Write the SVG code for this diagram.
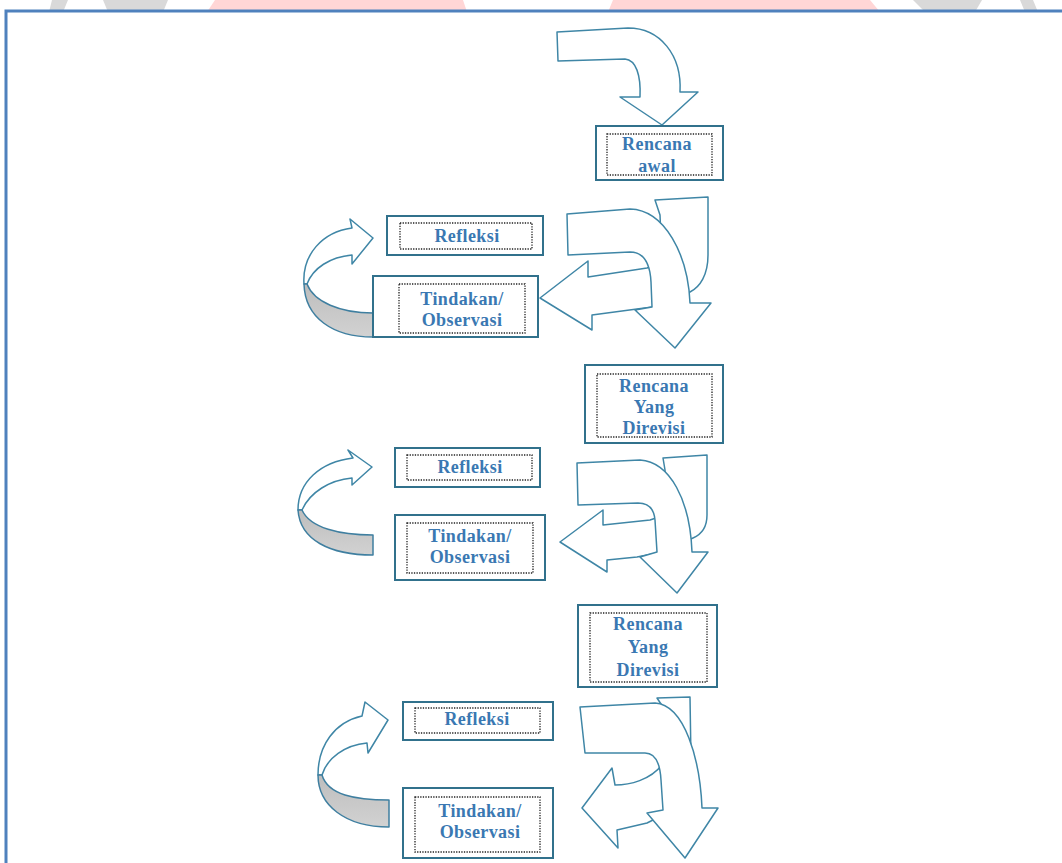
<svg xmlns="http://www.w3.org/2000/svg" width="1062" height="863" viewBox="0 0 1062 863">
<defs>
<style>
.wm-p{fill:#FFD6D6}
.wm-g{fill:#D9D9D9}
.frame{fill:#FFFFFF;stroke:#4F81BD;stroke-width:3}
.box{fill:#FFFFFF;stroke:#31718C;stroke-width:2}
.dot{fill:none;stroke:#222;stroke-width:1.3;stroke-dasharray:1.3 1.3}
.lbl{font-family:"Liberation Serif","Times New Roman",serif;font-weight:bold;font-size:18px;fill:#3A78B2;text-anchor:middle;letter-spacing:0.4px}
.arr{fill:#FFFFFF;stroke:#3F86A6;stroke-width:1.5;stroke-linejoin:round}
.rib{fill:url(#ribg);stroke:#3F7FA0;stroke-width:1.5;stroke-linejoin:round}
</style>
<linearGradient id="ribg" x1="0" y1="0" x2="0" y2="1">
<stop offset="0" stop-color="#BDBDBD"/>
<stop offset="1" stop-color="#D2D2D2"/>
</linearGradient>
</defs>
<rect width="1062" height="863" fill="#FFFFFF"/>
<g id="watermark">
<polygon class="wm-g" points="52,0 68,0 63,12 49,12"/>
<path class="wm-g" d="M103,0 L168,0 L163,12 L108,12 Z"/>
<polygon class="wm-p" points="215,0 463,0 467,12 207,12"/>
<polygon class="wm-p" points="613,0 870,0 880,12 608,12"/>
<path class="wm-g" d="M913,0 L982,0 L975,12 L925,12 Z"/>
<polygon class="wm-g" points="1020,0 1033,0 1038,12 1025,12"/>
</g>
<rect class="frame" x="6" y="11" width="1080" height="880"/>
<g id="connectors">
<path id="arrow-top" class="arr" d="M557,32 L628,28 C660,28 682,55 680,92 L698,92 L662,125 L620,97 L640,97 C641,75 636,60 625,59 L558,61 Z"/>
<path id="ribbon1-front" class="arr" d="M352,228 L350,219 L373,238 L352,264 L352,255 C330,257 313,268 307,284 L304,284 C302,255 322,232 352,228 Z"/>
<path id="ribbon1-back" class="rib" d="M307,284 C314,302 340,313 373,313 L373,337 C333,337 305,318 304,284 Z"/>
<path id="turn1" class="arr" d="M655,200 L708,197 L708,255 C708,275 700,287 690,292 L660,306 L637,309 L592,315 L592,330 L540,298 L588,261 L588,277 L647,268 L662,262 L660,215 Z"/>
<path id="down1" class="arr" d="M567,214 L630,209 C665,210 688,255 690,303 L711,303 L675,348 L635,310 L652,307 L651,282 C650,262 643,252 630,252 L568,255 Z"/>
<path id="ribbon2-front" class="arr" d="M353,458 L348,450 L372,467 L352,485 L352,478 C330,480 310,492 302,510 L298,510 C298,482 320,462 353,458 Z"/>
<path id="ribbon2-back" class="rib" d="M302,510 C310,528 340,535 373,535 L373,555 C330,555 300,540 298,510 Z"/>
<path id="turn2" class="arr" d="M663,458 L707,455 L707,515 C707,528 700,535 693,538 L662,552 L637,557 L607,560 L607,572 L560,542 L603,510 L603,525 L650,520 L665,515 L665,470 Z"/>
<path id="down2" class="arr" d="M577,463 L640,460 C670,462 690,500 692,552 L708,552 L677,593 L640,557 L657,552 L655,520 C654,508 648,503 638,503 L578,505 Z"/>
<path id="ribbon3-front" class="arr" d="M362,716 L365,702 L388,720 L368,753 L367,743 C345,745 327,758 322,775 L318,775 C318,745 335,722 362,716 Z"/>
<path id="ribbon3-back" class="rib" d="M322,775 C328,795 355,800 389,800 L389,827 C345,827 318,805 318,775 Z"/>
<path id="turn3" class="arr" d="M657,698 L690,697 L691,760 L680,800 L663,815 L647,823 L617,830 L618,848 L582,808 L612,768 L615,785 C630,785 650,780 662,765 L665,710 Z"/>
<path id="down3" class="arr" d="M580,707 L655,703 C685,705 700,760 702,808 L718,808 L685,858 L647,813 L663,810 L661,780 C660,762 655,753 645,753 L585,753 Z"/>
</g>
<g id="rencana-awal">
<rect class="box" x="596" y="126" width="127" height="54"/>
<rect class="dot" x="607" y="134" width="105" height="41"/>
<text class="lbl" x="657" y="150">Rencana</text>
<text class="lbl" x="657" y="172">awal</text>
</g>
<g id="refleksi-1">
<rect class="box" x="387" y="216" width="156" height="39"/>
<rect class="dot" x="400" y="223" width="132" height="26"/>
<text class="lbl" x="467" y="242">Refleksi</text>
</g>
<g id="tindakan-1">
<rect class="box" x="373" y="276" width="165" height="61"/>
<rect class="dot" x="399" y="284" width="126" height="49"/>
<text class="lbl" x="462" y="305">Tindakan/</text>
<text class="lbl" x="462" y="326">Observasi</text>
</g>
<g id="rencana-revisi-1">
<rect class="box" x="585" y="365" width="138" height="78"/>
<rect class="dot" x="597" y="374" width="115" height="63"/>
<text class="lbl" x="654" y="392">Rencana</text>
<text class="lbl" x="654" y="413">Yang</text>
<text class="lbl" x="654" y="434">Direvisi</text>
</g>
<g id="refleksi-2">
<rect class="box" x="395" y="448" width="145" height="39"/>
<rect class="dot" x="407" y="455" width="125" height="25"/>
<text class="lbl" x="470" y="473">Refleksi</text>
</g>
<g id="tindakan-2">
<rect class="box" x="395" y="515" width="150" height="65"/>
<rect class="dot" x="407" y="523" width="126" height="50"/>
<text class="lbl" x="470" y="542">Tindakan/</text>
<text class="lbl" x="470" y="563">Observasi</text>
</g>
<g id="rencana-revisi-2">
<rect class="box" x="578" y="605" width="139" height="82"/>
<rect class="dot" x="590" y="613" width="117" height="69"/>
<text class="lbl" x="648" y="630">Rencana</text>
<text class="lbl" x="648" y="653">Yang</text>
<text class="lbl" x="648" y="676">Direvisi</text>
</g>
<g id="refleksi-3">
<rect class="box" x="403" y="702" width="150" height="38"/>
<rect class="dot" x="415" y="708" width="125" height="25"/>
<text class="lbl" x="477" y="725">Refleksi</text>
</g>
<g id="tindakan-3">
<rect class="box" x="403" y="788" width="150" height="70"/>
<rect class="dot" x="415" y="797" width="125" height="55"/>
<text class="lbl" x="480" y="817">Tindakan/</text>
<text class="lbl" x="480" y="838">Observasi</text>
</g>
</svg>
